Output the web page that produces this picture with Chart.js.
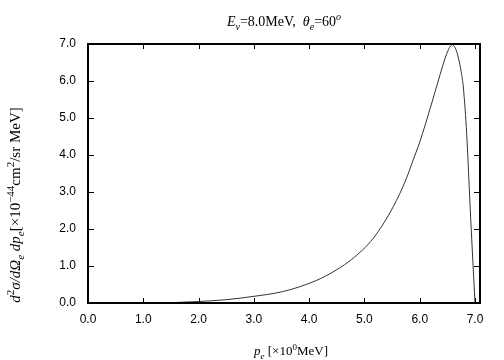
<!DOCTYPE html>
<html>
<head>
<meta charset="utf-8">
<script src="https://cdn.jsdelivr.net/npm/chart.js@4"></script>
<style>
  body { margin: 0; background: #fff; }
  #wrap { width: 504px; height: 360px; }
</style>
</head>
<body>
<div id="wrap"><canvas id="myChart" width="504" height="360"></canvas></div>
<script>
// electron momentum p_e [MeV] and cross section [1e-44 cm^2/sr MeV]
const pe    = [1.3, 1.6, 2.0, 2.5, 3.0, 3.5, 3.83, 4.22, 4.5, 4.77, 5.16, 5.52, 5.76, 5.86, 6.0, 6.1, 6.28, 6.46, 6.52, 6.56, 6.59, 6.62, 6.66, 6.7, 6.75, 6.79, 6.85, 6.92, 7.0];
const cross = [0.0, 0.015, 0.04, 0.09, 0.18, 0.30, 0.44, 0.67, 0.90, 1.18, 1.75, 2.60, 3.37, 3.78, 4.35, 4.82, 5.72, 6.62, 6.85, 6.95, 6.98, 6.95, 6.83, 6.62, 6.25, 5.81, 4.55, 2.33, 0.0];
const xTicks = [0, 1, 2, 3, 4, 5, 6, 7];
const yTicks = [0, 1, 2, 3, 4, 5, 6, 7];

const serif = '"Liberation Serif", "DejaVu Serif", serif';
const sans = '"Liberation Sans", Arial, sans-serif';

// text pieces: i = italic, sub / sup = small and shifted
const titleText = [
    { t: 'E', i: 1 }, { t: 'ν', i: 1, sub: 1 }, { t: '=8.0MeV,  ' },
    { t: 'θ', i: 1 }, { t: 'e', i: 1, sub: 1 }, { t: '=60' }, { t: 'o', i: 1, sup: 1 }
];
const xTitleText = [
    { t: 'p', i: 1 }, { t: 'e', i: 1, sub: 1 }, { t: ' [×10' }, { t: '0', sup: 1 }, { t: 'MeV]' }
];
const yTitleText = [
    { t: 'd', i: 1 }, { t: '2', sup: 1 }, { t: 'σ/dΩ', i: 1 }, { t: 'e', i: 1, sub: 1 },
    { t: ' dp', i: 1 }, { t: 'e', i: 1, sub: 1 }, { t: '[×10' }, { t: '−44', sup: 1 },
    { t: 'cm' }, { t: '2', sup: 1 }, { t: '/sr MeV]' }
];

function segFont(s, size) {
    const sz = (s.sub || s.sup) ? Math.round(size * 0.72) : size;
    return (s.i ? 'italic ' : '') + sz + 'px ' + serif;
}

function drawRich(ctx, segs, x, y, size) {
    let total = 0;
    segs.forEach(s => { ctx.font = segFont(s, size); total += ctx.measureText(s.t).width; });
    let cx = x - total / 2;
    ctx.textAlign = 'left';
    ctx.textBaseline = 'alphabetic';
    segs.forEach(s => {
        ctx.font = segFont(s, size);
        let dy = 0;
        if (s.sub) dy = size * 0.28;
        if (s.sup) dy = -size * 0.42;
        ctx.fillText(s.t, cx, y + dy);
        cx += ctx.measureText(s.t).width;
    });
}

const framePlugin = {
    id: 'frame',
    afterDraw(chart) {
        const { ctx, chartArea: a, scales: { x, y } } = chart;
        ctx.save();
        ctx.strokeStyle = '#000';
        // inward tick marks on all four sides
        ctx.lineWidth = 1;
        ctx.beginPath();
        xTicks.forEach(v => {
            const px = Math.round(x.getPixelForValue(v)) + 0.5;
            ctx.moveTo(px, a.bottom); ctx.lineTo(px, a.bottom - 5);
            ctx.moveTo(px, a.top); ctx.lineTo(px, a.top + 5);
        });
        yTicks.forEach(v => {
            const py = Math.round(y.getPixelForValue(v)) + 0.5;
            ctx.moveTo(a.left, py); ctx.lineTo(a.left + 6, py);
            ctx.moveTo(a.right, py); ctx.lineTo(a.right - 6, py);
        });
        ctx.stroke();
        // box
        ctx.lineWidth = 2;
        ctx.strokeRect(a.left, a.top, a.right - a.left, a.bottom - a.top);

        ctx.fillStyle = '#000';
        drawRich(ctx, titleText, (a.left + a.right) / 2, 26, 14);
        drawRich(ctx, xTitleText, (a.left + a.right) / 2 + 7, 355, 13);
        ctx.translate(20, 205);
        ctx.rotate(-Math.PI / 2);
        drawRich(ctx, yTitleText, 0, 0, 15);
        ctx.restore();
    }
};

const ctx = document.getElementById('myChart').getContext('2d');
const chart = new Chart(ctx, {
    type: 'line',
    data: {
        datasets: [{
            data: pe.map((v, k) => ({ x: v, y: cross[k] })),
            borderColor: '#333',
            borderWidth: 1,
            pointRadius: 0,
            fill: false,
            cubicInterpolationMode: 'monotone'
        }]
    },
    options: {
        responsive: false,
        animation: false,
        layout: { padding: { left: 38, right: 24, top: 44, bottom: 30 } },
        plugins: { legend: { display: false }, tooltip: { enabled: false } },
        scales: {
            x: {
                type: 'linear',
                min: 0,
                max: 7.09,
                afterBuildTicks: s => { s.ticks = xTicks.map(v => ({ value: v })); },
                afterFit: s => { s.height = 27; },
                grid: { display: false, drawTicks: false },
                border: { display: false },
                ticks: {
                    padding: 9,
                    color: '#000',
                    font: { family: sans, size: 12 },
                    callback: v => v.toFixed(1)
                }
            },
            y: {
                min: 0,
                max: 7,
                afterBuildTicks: s => { s.ticks = yTicks.map(v => ({ value: v })); },
                afterFit: s => { s.width = 50; },
                grid: { display: false, drawTicks: false },
                border: { display: false },
                ticks: {
                    padding: 12,
                    color: '#000',
                    font: { family: sans, size: 12 },
                    callback: v => v.toFixed(1)
                }
            }
        }
    },
    plugins: [framePlugin]
});
</script>
</body>
</html>
